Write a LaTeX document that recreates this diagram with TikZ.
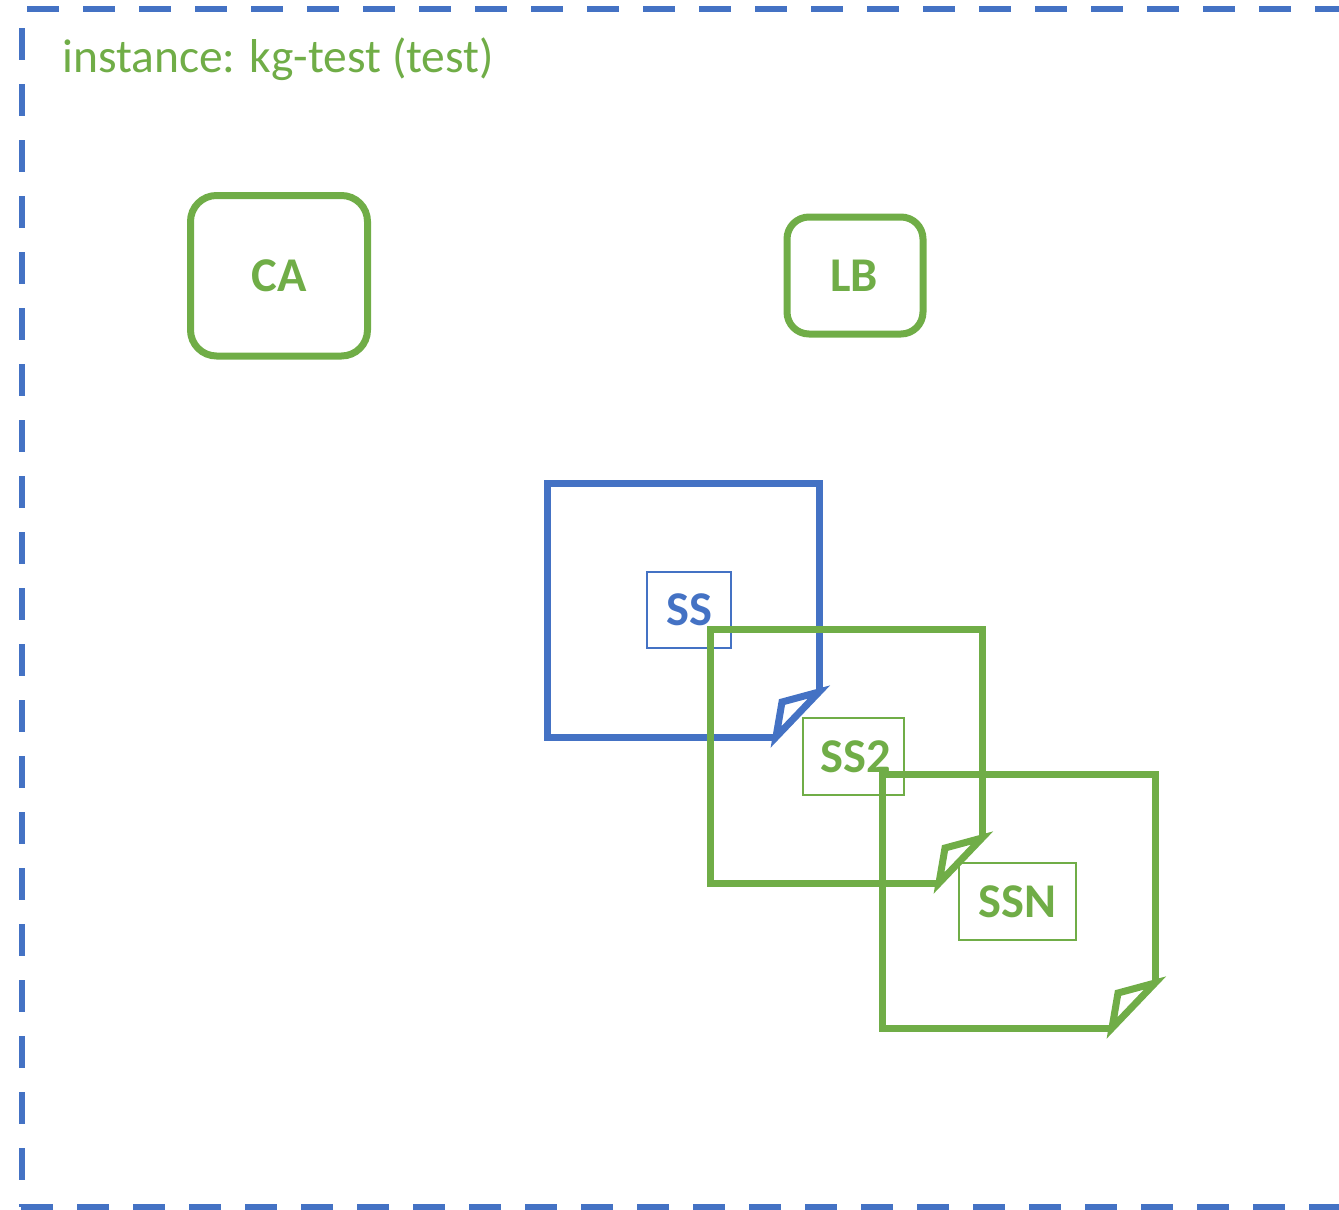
\documentclass[tikz,border=0pt]{standalone}
\usepackage{fontspec}
\setmainfont{Carlito}
\definecolor{msblue}{HTML}{4472C4}
\definecolor{msgreen}{HTML}{70AD47}
\tikzset{
  frameline/.style={draw=msblue, line width=6.5pt, dash pattern=on 32pt off 24pt},
  roundbox/.style={draw=msgreen, line width=7pt, rounded corners=#1},
  foldline/.style={line width=7pt, line join=miter, miter limit=10},
  lbl/.style={draw, line width=1.3pt, inner sep=0pt, font=\fontsize{48.5}{50}\selectfont\bfseries},
  boxtxt/.style={text=msgreen, inner sep=0pt, font=\fontsize{48.5}{50}\selectfont\bfseries}
}
\begin{document}
\begin{tikzpicture}[x=1pt,y=-1pt]
\useasboundingbox (0,0) rectangle (1339,1210);
% dashed frame
\coordinate (ft0) at (27,9);
\coordinate (ft1) at (1345,9);
\coordinate (fl0) at (22,28);
\coordinate (fl1) at (22,1207);
\coordinate (fb0) at (21,1207);
\coordinate (fb1) at (1345,1207);
\draw[frameline] (ft0) -- (ft1);
\draw[frameline] (fl0) -- (fl1);
\draw[frameline] (fb0) -- (fb1);
\node[anchor=base west, inner sep=0pt, text=msgreen, font=\fontsize{47.5}{50}\selectfont] (title) at (62,72) {instance: kg-test (test)};
% CA and LB
\draw[roundbox=26pt] (190.5,195.5) rectangle (367.5,356);
\node[boxtxt] (ca) at (279,276) {CA};
\draw[roundbox=22pt] (787,217) rectangle (923,334);
\node[boxtxt] (lb) at (854,276) {LB};
% SS (blue)
\draw[foldline, draw=msblue] (819,692) -- (819,483) -- (547,483) -- (547,737) -- (776,737);
\draw[foldline, draw=msblue] (776,737) -- (819,692) -- (782,702) -- cycle;
\node[lbl, draw=msblue, text=msblue, minimum width=84pt, minimum height=76pt] (ss) at (689,610) {SS};
% SS2 (green)
\draw[foldline, draw=msgreen] (982,838) -- (982,629) -- (710,629) -- (710,883) -- (939,883);
\draw[foldline, draw=msgreen] (939,883) -- (982,838) -- (945,848) -- cycle;
\node[lbl, draw=msgreen, text=msgreen, minimum width=101pt, minimum height=77pt] (ss2) at (853.5,756.5) {};
\node[boxtxt] (ss2t) at (856,757) {SS2};
% SSN (green)
\draw[foldline, draw=msgreen] (1155,983) -- (1155,774) -- (882,774) -- (882,1028) -- (1112,1028);
\draw[foldline, draw=msgreen] (1112,1028) -- (1155,983) -- (1118,993) -- cycle;
\node[lbl, draw=msgreen, text=msgreen, minimum width=117pt, minimum height=77pt] (ssn) at (1017.5,901.5) {SSN};
\end{tikzpicture}
\end{document}
